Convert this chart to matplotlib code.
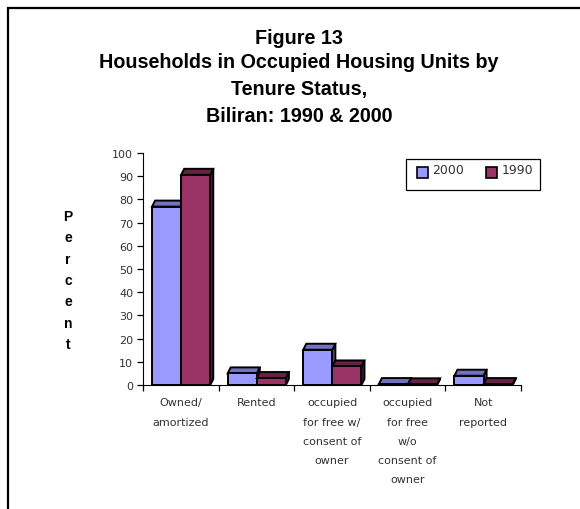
import matplotlib.pyplot as plt
from matplotlib.patches import Polygon, Rectangle

W, H = 580, 510
BLUE = "#9999FF"
BLUE_DARK = "#7272C0"
PLUM = "#993366"
PLUM_DARK = "#662244"
LABEL = "#333333"

categories = [
    "Owned/\namortized",
    "Rented",
    "occupied\nfor free w/\nconsent of\nowner",
    "occupied\nfor free\nw/o\nconsent of\nowner",
    "Not\nreported",
]
values_2000 = [76.9, 5.0, 15.2, 0.4, 4.0]
values_1990 = [90.6, 3.0, 8.0, 0.3, 0.4]
y_ticks = list(range(0, 101, 10))
title_lines = [
    "Figure 13",
    "Households in Occupied Housing Units by",
    "Tenure Status,",
    "Biliran: 1990 & 2000",
]

fig = plt.figure(figsize=(W / 100, H / 100), dpi=100)
fig.patch.set_facecolor("white")

# pixel overlay for frame, title and legend
bg = fig.add_axes([0, 0, 1, 1], zorder=3)
bg.set_xlim(0, W)
bg.set_ylim(H, 0)
bg.axis("off")
bg.patch.set_alpha(0)

# plot area placed to match the reference
left, right, top, bottom = 143, 521, 154, 386
ax = fig.add_axes([left / W, 1 - bottom / H, (right - left) / W, (bottom - top) / H])
ax.set_xlim(0, 5)
ax.set_ylim(0, 100)
ax.patch.set_alpha(0)

bar_w = 0.385
x_off = 0.12
depth_x = 3 / 75.6
depth_y = 6 / 2.32


def bar3d(x, v, face, dark, z):
    ax.bar(x, v, bar_w, align="edge", color=face, edgecolor="black", linewidth=1.4, zorder=z + 1)
    top_pts = [(x, v), (x + depth_x, v + depth_y), (x + bar_w + depth_x, v + depth_y), (x + bar_w, v)]
    side_pts = [(x + bar_w, 0), (x + bar_w + depth_x, depth_y), (x + bar_w + depth_x, v + depth_y), (x + bar_w, v)]
    ax.add_patch(Polygon(side_pts, facecolor=dark, edgecolor="black", linewidth=1.4, zorder=z))
    ax.add_patch(Polygon(top_pts, facecolor=dark, edgecolor="black", linewidth=1.4, zorder=z))


for i in range(len(categories)):
    bar3d(i + x_off, values_2000[i], BLUE, BLUE_DARK, 3)
    bar3d(i + x_off + bar_w, values_1990[i], PLUM, PLUM_DARK, 5)

for side in ["top", "right"]:
    ax.spines[side].set_visible(False)
ax.set_yticks(y_ticks)
ax.set_xticks(range(6))
ax.set_xticklabels([])
ax.set_xticks([i + 0.5 for i in range(5)], minor=True)
ax.set_xticklabels(categories, minor=True, linespacing=2.14)
ax.tick_params(axis="x", which="minor", length=0, pad=9, labelsize=8, labelcolor=LABEL)
ax.tick_params(axis="x", which="major", length=4, width=0.9)
ax.tick_params(axis="y", length=4, width=0.9, labelsize=8, labelcolor=LABEL, pad=3)

# outer frame: only the top and left edges are in the picture
bg.plot([7.5, 7.5, W], [H, 9, 9], color="black", lw=1.6, solid_joinstyle="miter")

for line, y in zip(title_lines, [38, 63, 89, 116]):
    bg.text(299, y, line, family="Liberation Sans", fontweight="bold", fontsize=14.2, ha="center", va="center", color="black")

bg.text(68, 281, "P\ne\nr\nc\ne\nn\nt", family="Liberation Sans", fontweight="bold", fontsize=10,
        ha="center", va="center", linespacing=1.66, color="black")

# legend box
bg.add_patch(Rectangle((406, 160), 134, 31, facecolor="white", edgecolor="black", lw=0.9))
bg.add_patch(Rectangle((417, 168), 11, 11, facecolor=BLUE, edgecolor="black", lw=1.2))
bg.add_patch(Rectangle((486, 168), 11, 11, facecolor=PLUM, edgecolor="black", lw=1.2))
bg.text(432, 171, "2000", fontsize=9, color=LABEL, ha="left", va="center")
bg.text(502, 171, "1990", fontsize=9, color=LABEL, ha="left", va="center")

fig.savefig("out.png", dpi=100, facecolor="white")
plt.close(fig)
